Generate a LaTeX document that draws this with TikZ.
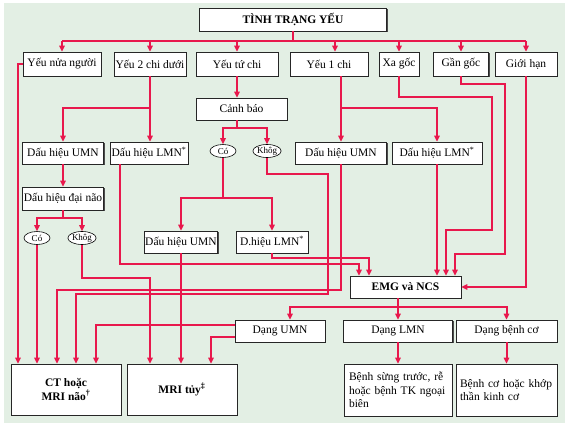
\documentclass[tikz,border=0pt]{standalone}
\usepackage{fontspec}
\setmainfont{Liberation Serif}
\usetikzlibrary{arrows.meta,shapes.geometric,shadows}
\definecolor{linkred}{RGB}{232,24,76}
\definecolor{paper}{RGB}{227,239,228}

\begin{document}
\begin{tikzpicture}[x=1pt,y=-1pt,
	box/.style={draw=black!85, line width=0.7pt, fill=white,
		drop shadow={shadow xshift=1.3pt, shadow yshift=-1.3pt, fill=black!70, opacity=1},
		minimum height=23pt, inner xsep=0.5pt, inner ysep=1pt,
		font=\fontsize{11.5}{13.5}\selectfont},
	bbox/.style={box, font=\fontsize{11.5}{13.5}\selectfont\bfseries},
	oval/.style={ellipse, draw, fill=white, line width=0.6pt, minimum width=26pt,
		minimum height=13pt, inner sep=0pt, font=\fontsize{9}{9}\selectfont},
	conn/.style={draw=linkred, line width=2pt},
	arr/.style={conn, -{Triangle[length=6pt,width=5.5pt]}}]

	\fill[paper] (4,3) rectangle (565,423);
	\useasboundingbox (0,0) rectangle (565,423);

	\draw (293,19.5) node [bbox, minimum width=187pt] (top) {TÌNH TRẠNG YẾU};

	\draw (62,64) node [box, minimum width=78pt, minimum height=24pt] (nua) {Yếu nửa người};
	\draw (150,64) node [box, minimum width=72pt, minimum height=24pt] (haichi) {Yếu 2 chi dưới};
	\draw (237,64) node [box, minimum width=82pt, minimum height=24pt] (tuchi) {Yếu tứ chi};
	\draw (329,64) node [box, minimum width=78pt, minimum height=24pt] (motchi) {Yếu 1 chi};
	\draw (399,64) node [box, minimum width=40pt, minimum height=24pt] (xagoc) {Xa gốc};
	\draw (461,64) node [box, minimum width=55pt, minimum height=24pt] (gangoc) {Gần gốc};
	\draw (526,64) node [box, minimum width=62pt, minimum height=24pt] (gioihan) {Giới hạn};

	\draw (241.5,109) node [box, minimum width=91pt, minimum height=22pt] (canhbao) {Cảnh báo};
	\draw (63,153) node [box, minimum width=81pt, minimum height=22pt] (umnL) {Dấu hiệu UMN};
	\draw (149,153) node [box, minimum width=78pt, minimum height=22pt] (lmnL) {Dấu hiệu LMN\textsuperscript{*}};
	\draw (223,151) node [oval] (co1) {Có};
	\draw (267,151) node [oval] (khong1) {Khôg};
	\draw (341,153) node [box, minimum width=91pt, minimum height=22pt] (umnR) {Dấu hiệu UMN};
	\draw (437,153) node [box, minimum width=90pt, minimum height=22pt] (lmnR) {Dấu hiệu LMN\textsuperscript{*}};

	\draw (63,198.5) node [box, minimum width=81pt] (daino) {Dấu hiệu đại não};
	\draw (37,238) node [oval] (co2) {Có};
	\draw (82,238) node [oval] (khong2) {Khôg};
	\draw (181,242) node [box, minimum width=72pt, minimum height=22pt] (umnM) {Dấu hiệu UMN};
	\draw (272,242) node [box, minimum width=72pt, minimum height=22pt] (lmnM) {D.hiệu LMN\textsuperscript{*}};

	\draw (405.5,287) node [bbox, minimum width=111pt, minimum height=22pt] (emg) {EMG và NCS};
	\draw (280,331) node [box, minimum width=90pt, minimum height=22pt] (dumn) {Dạng UMN};
	\draw (398,331) node [box, minimum width=109pt, minimum height=22pt] (dlmn) {Dạng LMN};
	\draw (506.5,331) node [box, minimum width=101pt, minimum height=22pt] (dco) {Dạng bệnh cơ};

	\draw (66,389.5) node [bbox, minimum width=110pt, minimum height=51pt, align=center] (ct) {CT hoặc\\MRI não\textsuperscript{†}};
	\draw (182,389.5) node [bbox, minimum width=110pt, minimum height=51pt] (mrit) {MRI tủy\textsuperscript{‡}};
	\draw (398,390) node [box, minimum height=52pt, text width=98pt, inner xsep=5pt, align=left] (sung) {Bệnh sừng trước, rễ\\hoặc bệnh TK ngoại\\biên};
	\draw (506.5,390) node [box, minimum height=52pt, text width=93pt, inner xsep=4pt, align=left] (khop) {Bệnh cơ hoặc khớp\\thần kinh cơ};

	% tình trạng yếu
	\draw[conn] (top.south) -- (top.south |- 0,41) coordinate (bus);
	\draw[conn] (nua.north |- bus) -- (gioihan.north |- bus);
	\foreach \n in {nua,haichi,tuchi,xagoc,gangoc,gioihan}
		\draw[arr] (\n.north |- bus) -- (\n.north);
	\draw[arr] ([xshift=6pt]motchi.north |- bus) -- ([xshift=6pt]motchi.north);

	% nửa người, 2 chi dưới
	\draw[arr] (nua.west) -| (ct.north -| 18,0);
	\draw[arr] (haichi.south) -- (haichi.south |- lmnL.north);
	\draw[arr] (haichi.south) -- ++(0,32) -| (umnL.north);

	% tứ chi
	\draw[arr] (tuchi.south) -- (tuchi.south |- canhbao.north);
	\draw[arr] (canhbao.south -| tuchi.south) -- ++(0,8) -| (co1.north);
	\draw[arr] (canhbao.south -| tuchi.south) -- ++(0,8) -| (khong1.north);
	\draw[arr] (co1.south) -- ++(0,40) -| (umnM.north);
	\draw[arr] (co1.south) -- ++(0,40) -| (lmnM.north);
	\draw[arr] (khong1.south) -- ++(0,16) -| (328,294) -| (ct.north -| 76,0);

	% 1 chi
	\draw[arr] (motchi.south -| umnR.north) -- (umnR.north);
	\draw[arr] (motchi.south -| umnR.north) -- ++(0,32) -| (lmnR.north);
	\draw[arr] (umnR.south) -- ++(0,126) -| (ct.north -| 57,0);
	\draw[arr] (lmnR.south) -- (lmnR.south |- emg.north);

	% xa gốc, gần gốc, giới hạn
	\draw[arr] (xagoc.south) -- ++(0,21) -| (492,230) -| (emg.north -| 446,0);
	\draw[arr] (gangoc.south) -- ++(0,8) -| (505,254) -| (emg.north -| 455,0);
	\draw[arr] (gioihan.south) |- (emg.east);

	% cột trái
	\draw[arr] (umnL.south) -- (daino.north);
	\draw[arr] (daino.south) -- ++(0,8) -| (co2.north);
	\draw[arr] (daino.south) -- ++(0,8) -| (khong2.north);
	\draw[arr] (co2.south) -- (co2.south |- ct.north);
	\draw[arr] (khong2.south) -- ++(0,33) -| (mrit.north -| 150,0);
	\draw[arr] ([xshift=-29pt]lmnL.south) -- ++(0,100) -| (emg.north -| 359,0);
	\draw[arr] (lmnM.south) -- ++(0,5) -| (emg.north -| 369,0);
	\draw[arr] (umnM.south) -- (umnM.south |- mrit.north);

	% EMG và NCS
	\draw[arr] (emg.south -| dlmn.north) -- (dlmn.north);
	\draw[arr] (emg.south -| dlmn.north) -- ++(0,9) -| ([xshift=10pt]dumn.north);
	\draw[arr] (emg.south -| dlmn.north) -- ++(0,9) -| (dco.north);
	\draw[arr] ([yshift=6pt]dumn.west) -| (ct.north -| 96,0);
	\draw[arr] ([yshift=-6pt]dumn.west) -| (mrit.north -| 211,0);
	\draw[arr] (dlmn.south) -- (sung.north);
	\draw[arr] (dco.south) -- (khop.north);
\end{tikzpicture}
\end{document}
